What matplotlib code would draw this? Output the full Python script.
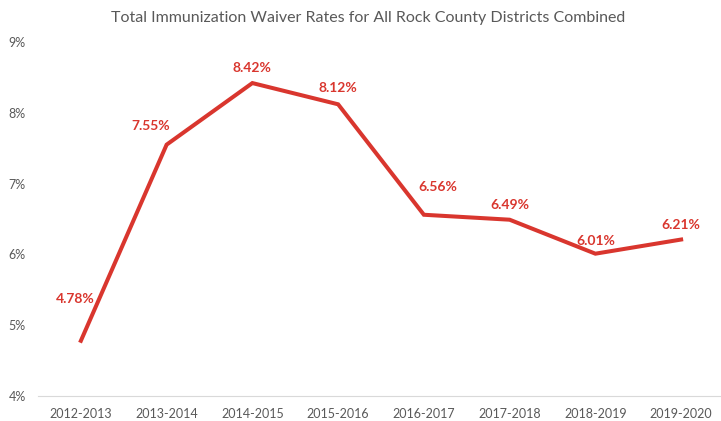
import matplotlib
matplotlib.use("Agg")
import matplotlib.pyplot as plt
from matplotlib.ticker import FuncFormatter

categories = ["2012-2013", "2013-2014", "2014-2015", "2015-2016",
              "2016-2017", "2017-2018", "2018-2019", "2019-2020"]
rates = [4.78, 7.55, 8.42, 8.12, 6.56, 6.49, 6.01, 6.21]
label_offsets = [(-6, 42), (-16, 19), (0, 15), (0, 16), (14, 28), (0, 15), (0, 13), (0, 15)]

plt.rcParams['font.family'] = ['Lato', 'DejaVu Sans']
red = '#D9362E'
gray = '#595959'

fig = plt.figure(figsize=(7.21, 4.21), dpi=100)
ax = fig.add_axes([38/721, 25/421, 686/721, 354/421])
x = list(range(len(categories)))
ax.plot(x, rates, color=red, linewidth=2.9, solid_joinstyle='miter')
for xi, v, (dx, dy) in zip(x, rates, label_offsets):
    ax.annotate(f"{v:.2f}%", (xi, v), xytext=(dx, dy), textcoords='offset pixels',
                ha='center', va='center', color=red, fontsize=10, fontweight='bold')

ax.set_xlim(-0.5, 7.5)
ax.set_ylim(4, 9)
ax.set_yticks([4, 5, 6, 7, 8, 9])
ax.yaxis.set_major_formatter(FuncFormatter(lambda v, p: f"{v:.0f}%"))
ax.set_xticks(x)
ax.set_xticklabels(categories)
for s in ['top', 'right', 'left']:
    ax.spines[s].set_visible(False)
ax.spines['bottom'].set_color('#D9D9D9')
ax.tick_params(axis='both', length=0, colors=gray, labelsize=9)
ax.tick_params(axis='x', pad=9)
ax.tick_params(axis='y', pad=21)
for t in ax.get_yticklabels():
    t.set_horizontalalignment('left')

fig.text(368/721, 1 - 18/421, "Total Immunization Waiver Rates for All Rock County Districts Combined",
         ha='center', va='center', color=gray, fontsize=11.5)
fig.savefig("out.png", dpi=100)
